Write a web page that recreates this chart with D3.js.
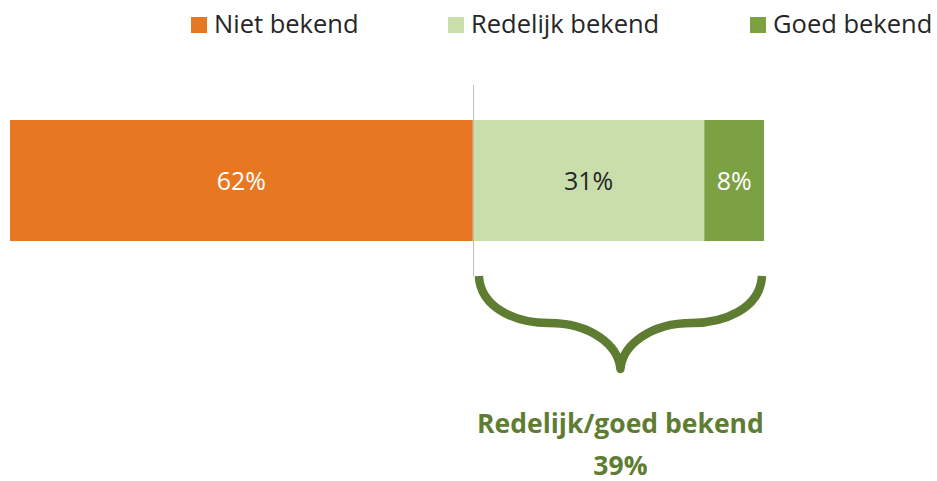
<!DOCTYPE html>
<html>
<head>
<meta charset="utf-8">
<script src="https://cdn.jsdelivr.net/npm/d3@7"></script>
<style>
  body { margin: 0; background: #fff; }
  svg { display: block; font-family: "Open Sans", Lato, sans-serif; }
</style>
</head>
<body>
<svg id="canvas" width="937" height="481"></svg>
<script>
// chart data
let categories = ['Niet bekend', 'Redelijk bekend', 'Goed bekend']
let values = [62, 31, 8]
let colors = ['#E87722', '#C9DEAB', '#7BA143']
let labelColors = ['#ffffff', '#262626', '#ffffff']
let legendX = [191, 448, 750]
let groupLabel = 'Redelijk/goed bekend'
let groupValue = 39

let canvas = d3.select('#canvas')

let total = d3.sum(values)
let xScale = d3.scaleLinear().domain([0, total]).range([10, 764])
let yScale = d3.scaleBand().domain(['bar']).range([120, 241])

// stack offsets
let starts = []
let acc = 0
values.forEach((v) => { starts.push(acc); acc += v })

let segs = canvas.selectAll('g.seg')
  .data(values)
  .enter()
  .append('g')
  .attr('class', 'seg')

segs.append('rect')
  .attr('x', (d, i) => xScale(starts[i]))
  .attr('y', yScale('bar'))
  .attr('width', (d, i) => xScale(starts[i] + d) - xScale(starts[i]))
  .attr('height', yScale.bandwidth())
  .attr('fill', (d, i) => colors[i])

segs.append('text')
  .text((d) => d + '%')
  .attr('x', (d, i) => (xScale(starts[i]) + xScale(starts[i] + d)) / 2)
  .attr('y', yScale('bar') + yScale.bandwidth() / 2 + 9)
  .attr('text-anchor', 'middle')
  .attr('font-size', 25)
  .attr('fill', (d, i) => labelColors[i])

// divider line
let splitX = Math.round(xScale(values[0])) + 0.5
canvas.append('line')
  .attr('x1', splitX).attr('x2', splitX)
  .attr('y1', 85).attr('y2', 276)
  .attr('stroke', '#BFBFBF')
  .attr('stroke-width', 1)

// legend
let legend = canvas.selectAll('g.legend')
  .data(categories)
  .enter()
  .append('g')
  .attr('class', 'legend')
  .attr('transform', (d, i) => 'translate(' + legendX[i] + ', 17)')

legend.append('rect')
  .attr('width', 16)
  .attr('height', 16)
  .attr('fill', (d, i) => colors[i])

legend.append('text')
  .text((d) => d)
  .attr('x', 23)
  .attr('y', 16)
  .attr('font-size', 25.5)
  .attr('fill', '#262626')

// brace under the green part
let braceL = xScale(values[0]) + 6
let braceR = xScale(total) - 2
let braceMid = (braceL + braceR) / 2
let braceTop = 276, braceFlat = 323, braceTip = 369
let brace = d3.path()
brace.moveTo(braceL, braceTop)
brace.bezierCurveTo(braceL + 2, 310, braceL + 40, braceFlat, braceL + 70, braceFlat)
brace.bezierCurveTo(braceMid - 30, braceFlat, braceMid - 2, 345, braceMid, braceTip)
brace.bezierCurveTo(braceMid + 2, 345, braceMid + 30, braceFlat, braceR - 70, braceFlat)
brace.bezierCurveTo(braceR - 40, braceFlat, braceR - 2, 310, braceR, braceTop)

canvas.append('path')
  .attr('d', brace.toString())
  .attr('fill', 'none')
  .attr('stroke', '#5F7D32')
  .attr('stroke-width', 8.5)
  .attr('stroke-linecap', 'butt')
  .attr('stroke-linejoin', 'round')

canvas.append('text')
  .text(groupLabel)
  .attr('x', braceMid)
  .attr('y', 433)
  .attr('text-anchor', 'middle')
  .attr('font-size', 26.5)
  .attr('font-weight', 'bold')
  .attr('fill', '#5F7D32')

canvas.append('text')
  .text(groupValue + '%')
  .attr('x', braceMid)
  .attr('y', 475)
  .attr('text-anchor', 'middle')
  .attr('font-size', 26.5)
  .attr('font-weight', 'bold')
  .attr('fill', '#5F7D32')
</script>
</body>
</html>
